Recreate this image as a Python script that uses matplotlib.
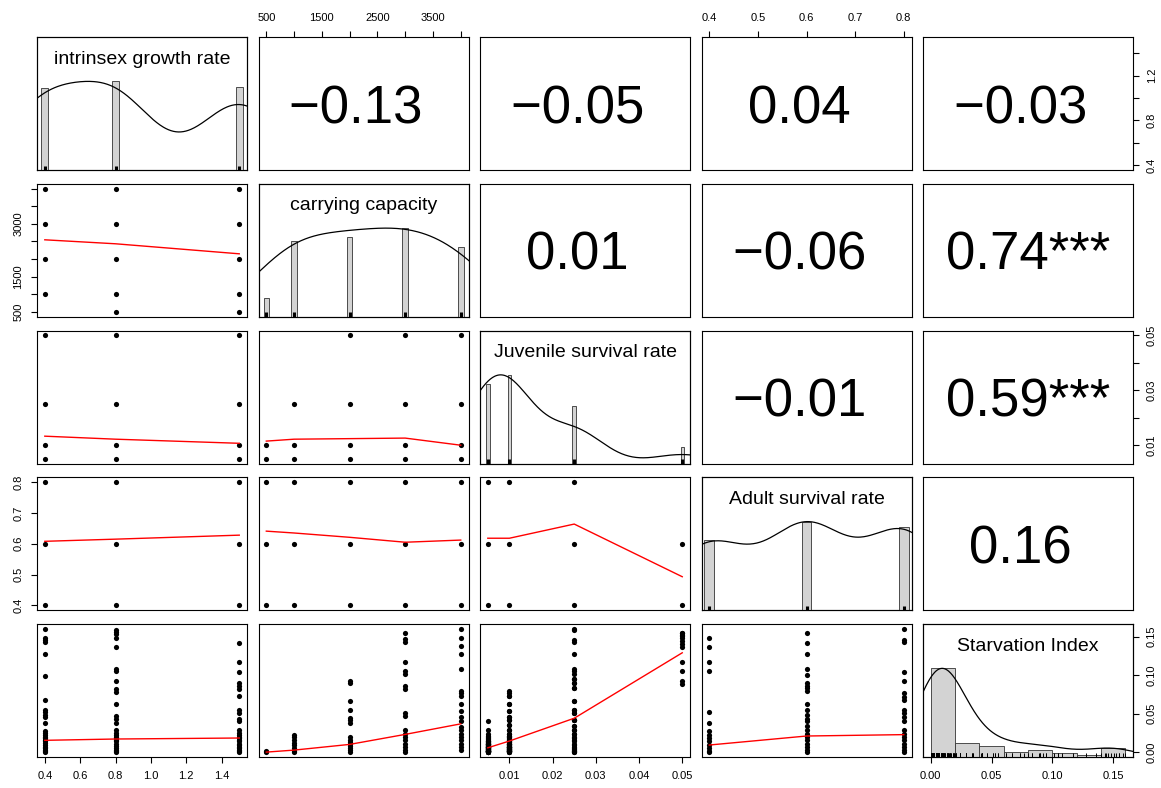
import numpy as np
import matplotlib.pyplot as plt

plt.rcParams['font.family'] = ['Liberation Sans', 'DejaVu Sans']

names = ['intrinsex growth rate', 'carrying capacity', 'Juvenile survival rate',
         'Adult survival rate', 'Starvation Index']

# design levels of the simulation runs
growth_levels = [0.4, 0.8, 1.5]
capacity_levels = [500, 1000, 2000, 3000, 4000]
juvenile_levels = [0.005, 0.01, 0.025, 0.05]
adult_levels = [0.4, 0.6, 0.8]

# number of runs at each level
growth_counts = [58, 63, 59]
capacity_counts = [10, 41, 43, 48, 38]
juvenile_counts = [59, 66, 43, 12]
adult_counts = [52, 66, 62]

# starvation index grouped by juvenile survival rate
starv_j005 = [0.041, 0.029, 0.024, 0.021,
              0.019, 0.018, 0.017, 0.016, 0.015, 0.014, 0.014, 0.013, 0.013, 0.012,
              0.012, 0.011, 0.011, 0.010, 0.010, 0.010, 0.009, 0.009, 0.009, 0.008,
              0.008, 0.008, 0.007, 0.007, 0.007, 0.006, 0.006, 0.006, 0.005, 0.005,
              0.005, 0.005, 0.004, 0.004, 0.004, 0.004, 0.003, 0.003, 0.003, 0.003,
              0.002, 0.002, 0.002, 0.002, 0.002, 0.001, 0.001, 0.001, 0.001, 0.001,
              0.000, 0.000, 0.000, 0.000, 0.000]
starv_j010 = [0.080, 0.077, 0.073, 0.073, 0.062, 0.062, 0.053, 0.053, 0.046, 0.046,
              0.042, 0.042, 0.035, 0.035, 0.029, 0.029, 0.024, 0.024, 0.021, 0.021,
              0.019, 0.019, 0.018, 0.017, 0.016, 0.016, 0.015, 0.014, 0.013, 0.013,
              0.012, 0.011, 0.011, 0.010, 0.010, 0.009, 0.009, 0.008, 0.008, 0.007,
              0.007, 0.007, 0.006, 0.006, 0.006, 0.005, 0.005, 0.005, 0.004, 0.004,
              0.004, 0.004, 0.003, 0.003, 0.003, 0.003, 0.002, 0.002, 0.002, 0.002,
              0.001, 0.001, 0.001, 0.000, 0.000, 0.000]
starv_j025 = [0.160, 0.158, 0.146, 0.143, 0.128, 0.108, 0.105, 0.101, 0.095, 0.095,
              0.090, 0.090, 0.083, 0.083, 0.067, 0.067, 0.055, 0.055, 0.051, 0.051,
              0.042, 0.042, 0.042, 0.034, 0.034, 0.029, 0.029, 0.024, 0.024, 0.020,
              0.018, 0.016, 0.014, 0.011, 0.009, 0.007, 0.005, 0.004, 0.003, 0.002,
              0.001, 0.000, 0.000]
starv_j050 = [0.155, 0.155, 0.152, 0.151, 0.148, 0.144, 0.140, 0.136, 0.117, 0.105,
              0.092, 0.089]

# starvation index grouped by growth rate
starv_g04 = [0.160, 0.148, 0.146, 0.143, 0.128, 0.099, 0.068, 0.055, 0.052, 0.048,
             0.045, 0.038, 0.028, 0.025, 0.022, 0.020, 0.018, 0.016, 0.014, 0.012,
             0.009, 0.007, 0.005, 0.003, 0.001, 0.000]
starv_g08 = [0.159, 0.156, 0.154, 0.148, 0.137, 0.108, 0.105, 0.092, 0.082, 0.078,
             0.062, 0.047, 0.043, 0.038, 0.029, 0.025, 0.022, 0.020, 0.018, 0.016,
             0.014, 0.011, 0.008, 0.005, 0.003, 0.001, 0.000]
starv_g15 = [0.142, 0.117, 0.104, 0.090, 0.086, 0.082, 0.073, 0.055, 0.051, 0.043,
             0.040, 0.029, 0.025, 0.022, 0.020, 0.018, 0.016, 0.014, 0.011, 0.009,
             0.007, 0.005, 0.003, 0.001, 0.000]

# starvation index grouped by carrying capacity
starv_k500 = [0.001, 0.000]
starv_k1000 = [0.022, 0.019, 0.016, 0.012, 0.009, 0.005, 0.002, 0.000]
starv_k2000 = [0.092, 0.090, 0.067, 0.055, 0.044, 0.042, 0.038, 0.020, 0.016, 0.013,
               0.011, 0.008, 0.005, 0.003, 0.000]
starv_k3000 = [0.155, 0.147, 0.143, 0.117, 0.105, 0.102, 0.086, 0.082, 0.051, 0.047,
               0.029, 0.024, 0.020, 0.016, 0.011, 0.007, 0.003, 0.000]
starv_k4000 = [0.160, 0.148, 0.138, 0.128, 0.108, 0.080, 0.077, 0.073, 0.062, 0.053,
               0.046, 0.040, 0.033, 0.029, 0.024, 0.020, 0.016, 0.011, 0.007, 0.003]

# starvation index grouped by adult survival rate
starv_a04 = [0.148, 0.137, 0.117, 0.105, 0.052, 0.038, 0.027, 0.022, 0.018, 0.014,
             0.009, 0.005, 0.002, 0.000]
starv_a06 = [0.155, 0.142, 0.128, 0.108, 0.100, 0.090, 0.086, 0.083, 0.080, 0.062,
             0.055, 0.048, 0.043, 0.040, 0.034, 0.029, 0.024, 0.020, 0.016, 0.011,
             0.007, 0.003, 0.000]
starv_a08 = [0.160, 0.146, 0.143, 0.104, 0.092, 0.077, 0.072, 0.068, 0.055, 0.051,
             0.046, 0.040, 0.029, 0.024, 0.020, 0.016, 0.011, 0.007, 0.003, 0.000]

# level combinations present in the runs
cap_at_growth = [[1000, 2000, 3000, 4000], capacity_levels, capacity_levels]
juv_at_growth = [juvenile_levels, juvenile_levels, juvenile_levels]
juv_at_cap = [[0.005, 0.01], [0.005, 0.01, 0.025], juvenile_levels,
              juvenile_levels, juvenile_levels]
adult_at_growth = [adult_levels, adult_levels, adult_levels]
adult_at_cap = [adult_levels] * 5
adult_at_juv = [adult_levels, adult_levels, adult_levels, [0.4, 0.6]]

# lowess smooths at each x level
smooth_cap_growth = [2548, 2435, 2150]
smooth_juv_growth = [0.0132, 0.0121, 0.0106]
smooth_juv_cap = [0.0114, 0.0121, 0.0123, 0.0125, 0.0099]
smooth_adult_growth = [0.608, 0.615, 0.628]
smooth_adult_cap = [0.641, 0.635, 0.621, 0.605, 0.612]
smooth_adult_juv = [0.618, 0.618, 0.664, 0.493]
smooth_starv_growth = [0.0153, 0.0170, 0.0183]
smooth_starv_cap = [0.0000, 0.0026, 0.0100, 0.0230, 0.0367]
smooth_starv_juv = [0.0056, 0.0144, 0.0440, 0.1290]
smooth_starv_adult = [0.0092, 0.0209, 0.0227]

# pairwise correlations, upper triangle row by row
corr_values = [-0.13, -0.05, 0.04, -0.03, 0.01, -0.06, 0.74, -0.01, 0.59, 0.16]
corr_stars = ['', '', '', '', '', '', '***', '', '***', '']

# kernel bandwidths for the density lines
bandwidths = [0.22, 720, 0.0068, 0.08, 0.018]
bar_widths = [0.04, 100, 0.0008, 0.02]
starv_bins = [0.0, 0.02, 0.04, 0.06, 0.08, 0.10, 0.12, 0.14, 0.16]

levels = [growth_levels, capacity_levels, juvenile_levels, adult_levels]
counts = [growth_counts, capacity_counts, juvenile_counts, adult_counts]
starv_at_growth = [starv_g04, starv_g08, starv_g15]
starv_at_cap = [starv_k500, starv_k1000, starv_k2000, starv_k3000, starv_k4000]
starv_at_juv = [starv_j005, starv_j010, starv_j025, starv_j050]
starv_at_adult = [starv_a04, starv_a06, starv_a08]
starvation = np.concatenate([np.array(s) for s in starv_at_juv])

lower = {
    (1, 0): (cap_at_growth, smooth_cap_growth),
    (2, 0): (juv_at_growth, smooth_juv_growth),
    (2, 1): (juv_at_cap, smooth_juv_cap),
    (3, 0): (adult_at_growth, smooth_adult_growth),
    (3, 1): (adult_at_cap, smooth_adult_cap),
    (3, 2): (adult_at_juv, smooth_adult_juv),
    (4, 0): (starv_at_growth, smooth_starv_growth),
    (4, 1): (starv_at_cap, smooth_starv_cap),
    (4, 2): (starv_at_juv, smooth_starv_juv),
    (4, 3): (starv_at_adult, smooth_starv_adult),
}

ticks = [
    [0.4, 0.6, 0.8, 1.0, 1.2, 1.4],
    [500, 1000, 1500, 2000, 2500, 3000, 3500, 4000],
    [0.01, 0.02, 0.03, 0.04, 0.05],
    [0.4, 0.5, 0.6, 0.7, 0.8],
    [0.0, 0.05, 0.10, 0.15],
]
xlabels = [
    ['0.4', '0.6', '0.8', '1.0', '1.2', '1.4'],
    ['500', '', '1500', '', '2500', '', '3500', ''],
    ['0.01', '0.02', '0.03', '0.04', '0.05'],
    ['0.4', '0.5', '0.6', '0.7', '0.8'],
    ['0.00', '0.05', '0.10', '0.15'],
]
ylabels = [
    ['0.4', '', '0.8', '', '1.2', ''],
    ['500', '', '1500', '', '', '3000', '', ''],
    ['0.01', '', '0.03', '', '0.05'],
    ['0.4', '0.5', '0.6', '0.7', '0.8'],
    ['0.00', '0.05', '0.10', '0.15'],
]


def padded(lo, hi):
    d = hi - lo
    return lo - 0.04 * d, hi + 0.04 * d


limits = [padded(min(v), max(v)) for v in levels]
limits.append(padded(starvation.min(), starvation.max()))


def density(values, bw):
    grid = np.linspace(values.min() - 3 * bw, values.max() + 3 * bw, 512)
    d = np.exp(-0.5 * ((grid[:, None] - values[None, :]) / bw) ** 2).sum(axis=1)
    return grid, d / d.max()


fig, axes = plt.subplots(5, 5, figsize=(11.61, 7.88), dpi=100,
                         gridspec_kw=dict(left=0.0319, right=0.9759, bottom=0.0393,
                                          top=0.953, wspace=0.0548, hspace=0.103))

k = 0
for i in range(5):
    for j in range(5):
        ax = axes[i, j]
        ax.set_xlim(limits[j])
        ax.set_ylim(limits[i])
        ax.set_xticks([])
        ax.set_yticks([])
        for sp in ax.spines.values():
            sp.set_linewidth(0.8)

        if i == j:
            hx = ax.twinx()
            hx.set_ylim(0, 1.5)
            hx.set_yticks([])
            for sp in hx.spines.values():
                sp.set_linewidth(0.8)
            if i < 4:
                vals = np.repeat(levels[i], counts[i]).astype(float)
                c = np.array(counts[i], dtype=float)
                hx.bar(levels[i], c / c.max(), width=bar_widths[i], color='#d3d3d3',
                       edgecolor='#333333', linewidth=0.6)
                hx.vlines(levels[i], 0, 0.05, color='black', lw=2.2)
            else:
                vals = starvation
                c, edges = np.histogram(vals, bins=starv_bins)
                hx.bar(edges[:-1], c / c.max(), width=np.diff(edges), align='edge',
                       color='#d3d3d3', edgecolor='#333333', linewidth=0.6)
                hx.vlines(vals, 0, 0.05, color='black', lw=0.7)
            gx, gy = density(vals, bandwidths[i])
            hx.plot(gx, gy, color='black', lw=0.9)
            hx.text(0.5, 0.833, names[i], transform=hx.transAxes, ha='center',
                    va='center', fontsize=14)
        elif i < j:
            r = corr_values[k]
            txt = f'{r:.2f}'.replace('-', '\u2212') + (corr_stars[k] or ' ')
            k += 1
            ax.text(0.5, 0.5, txt, transform=ax.transAxes, ha='center',
                    va='center_baseline', fontsize=38)
        else:
            groups, smooth = lower[(i, j)]
            for xv, ys in zip(levels[j], groups):
                ax.scatter([xv] * len(ys), ys, s=14, color='black', lw=0, zorder=3)
            ax.plot(levels[j], smooth, color='red', lw=1.0, zorder=4)

        ax.tick_params(length=4, width=0.8, labelsize=8, pad=6)
        # outer axes: alternate sides like pairs()
        if i == 4 and j % 2 == 0:
            ax.set_xticks(ticks[j])
            ax.set_xticklabels(xlabels[j])
        if i == 0 and j % 2 == 1:
            ax.xaxis.tick_top()
            ax.set_xticks(ticks[j])
            ax.set_xticklabels(xlabels[j])
        if j == 0 and i % 2 == 1:
            ax.set_yticks(ticks[i])
            ax.set_yticklabels(ylabels[i], rotation=90, va='center')
        if j == 4 and i % 2 == 0:
            ax.yaxis.tick_right()
            ax.set_yticks(ticks[i])
            ax.set_yticklabels(ylabels[i], rotation=90, va='center')

fig.savefig('out.png', dpi=100)
